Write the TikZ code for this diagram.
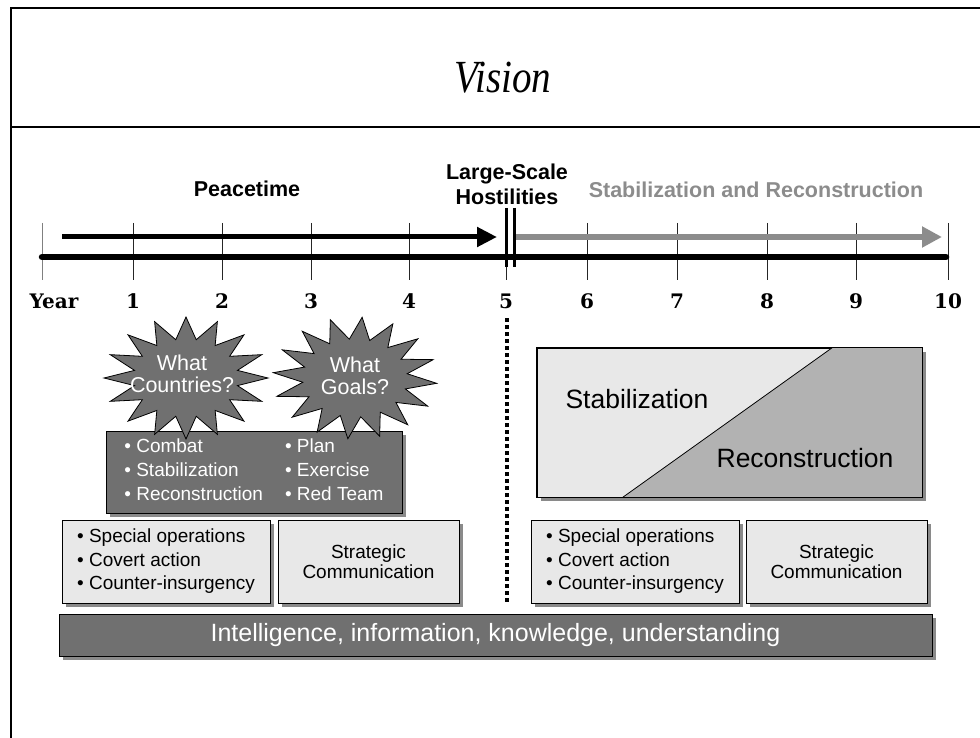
\documentclass[tikz,border=0pt]{standalone}
\usepackage{fontspec}
\setmainfont{Liberation Sans}
\newfontfamily\yearfont{DejaVu Serif}
\newfontfamily\titlefont{Liberation Serif}[FakeStretch=0.85]
\usetikzlibrary{arrows.meta,positioning,calc,shadows}

\definecolor{boxlight}{HTML}{E8E8E8}
\definecolor{boxdark}{HTML}{707070}
\definecolor{boxmid}{HTML}{B2B2B2}
\definecolor{arrowgray}{HTML}{8C8C8C}
\definecolor{shadowgray}{HTML}{8A8A8A}

\tikzset{
  lightbox/.style={draw, fill=boxlight, line width=1pt, inner sep=0pt,
    drop shadow={shadow xshift=4pt, shadow yshift=-4pt, fill=shadowgray, opacity=1}},
  darkbox/.style={lightbox, fill=boxdark, text=white},
  burst/.style={draw, fill=boxdark, line width=0.8pt},
  bursttext/.style={text=white, align=center, font=\fontsize{21.5}{22.5}\selectfont},
  phase/.style={font=\bfseries\fontsize{21.5}{25}\selectfont},
  yearlbl/.style={anchor=base, font=\yearfont\bfseries\fontsize{20}{22}\selectfont},
  tick/.style={line width=1pt, black!85},
  bigword/.style={font=\fontsize{26.5}{28}\selectfont}
}

\begin{document}
\begin{tikzpicture}[x=1pt,y=-1pt]
    \useasboundingbox (0,0) rectangle (980,738);

    % Frame and title
    \draw[line width=2pt] (11,738) -- (11,8) -- (980,8);
    \draw[line width=2pt] (11,127) -- (980,127);
    \node[font=\titlefont\itshape\fontsize{46}{50}\selectfont] (title) at (503,78) {Vision};

    % Timeline ticks and years
    \draw[tick, gray] (42,223) -- (42,280);
    \node[yearlbl] (year) at (54,308) {Year};
    \foreach \n/\x in {1/133,2/222,3/311,4/409,5/506,6/587,7/677,8/767,9/856,10/948} {
        \draw[tick] (\x,223) -- (\x,280);
        \node[yearlbl] (y\n) at (\x,308) {\n};
    }

    % Phase arrows
    \coordinate (t0) at (42,257);
    \coordinate (t10) at (946,257);
    \coordinate (p0) at (62,237);
    \coordinate (p1) at (497,237);
    \coordinate (s0) at (516,237);
    \coordinate (s1) at (942,237);
    \draw[line width=6.5pt, line cap=round] (t0) -- (t10);
    \draw[line width=5pt, -{Triangle[length=20pt,width=19pt]}] (p0) -- (p1);
    \draw[line width=6pt, arrowgray, -{Triangle[length=20pt,width=20pt]}] (s0) -- (s1);
    \draw[line width=3pt] (506,208) -- (506,267);
    \draw[line width=3pt] (514,208) -- (514,267);

    \node[phase] (peace) at (247,189) {Peacetime};
    \node[phase, align=center] (war) at (507,184) {Large-Scale\\Hostilities};
    \node[phase, text=arrowgray] (stab) at (756,190) {Stabilization and Reconstruction};

    % Divider between the two halves
    \coordinate (d0) at (507,318);
    \coordinate (d1) at (507,603);
    \draw[line width=4pt, dash pattern=on 4pt off 3pt] (d0) -- (d1);

    % Peacetime side
    \node[darkbox, minimum width=296, minimum height=82,
          font=\fontsize{19}{24}\selectfont] (aims) at (254,472) {%
        \begin{tabular}{@{}l@{\hspace{22pt}}l@{}}
        • Combat & • Plan\\
        • Stabilization & • Exercise\\
        • Reconstruction & • Red Team
        \end{tabular}};

    \draw[burst] plot[samples at={0,...,31}, variable=\t]
        ({186+82*(1-0.36*mod(\t,2))*cos(\t*11.25)}, {378+61*(1-0.36*mod(\t,2))*sin(\t*11.25)}) -- cycle;
    \draw[burst] plot[samples at={0,...,31}, variable=\t]
        ({355+82*(1-0.36*mod(\t,2))*cos(\t*11.25+5)}, {378+61*(1-0.36*mod(\t,2))*sin(\t*11.25+5)}) -- cycle;
    \node[bursttext] (qc) at (182,374) {What\\Countries?};
    \node[bursttext] (qg) at (355,376) {What\\Goals?};

    \node[lightbox, minimum width=208, minimum height=83, align=left,
          font=\fontsize{19}{23.5}\selectfont] (ops1) at (166,561.5)
        {• Special operations\\• Covert action\\• Counter-insurgency};
    \node[lightbox, minimum width=181, minimum height=83, align=center,
          font=\fontsize{19}{19.5}\selectfont] (comm1) at (368.5,561.5)
        {Strategic\\Communication};

    % Stabilization and reconstruction side
    \node[lightbox, minimum width=385, minimum height=149] (sr) at (729.5,422.5) {};
    \fill[boxmid] ($(sr.south west)+(86,0)$) -- ($(sr.north west)+(296,0)$)
        -- (sr.north east) -- (sr.south east) -- cycle;
    \draw[line width=0.8pt] ($(sr.south west)+(86,0)$) -- ($(sr.north west)+(296,0)$);
    \draw[line width=1pt] (sr.south west) rectangle (sr.north east);
    \node[bigword] (stabw) at (637,399) {Stabilization};
    \node[bigword] (recw) at (805,458) {Reconstruction};

    \node[lightbox, minimum width=208, minimum height=83, align=left,
          font=\fontsize{19}{23.5}\selectfont] (ops2) at (635,561.5)
        {• Special operations\\• Covert action\\• Counter-insurgency};
    \node[lightbox, minimum width=181, minimum height=83, align=center,
          font=\fontsize{19}{19.5}\selectfont] (comm2) at (836.5,561.5)
        {Strategic\\Communication};

    % Foundation bar
    \node[darkbox, minimum width=873, minimum height=42,
          font=\fontsize{25}{26}\selectfont] (intel) at (495.5,635)
        {Intelligence, information, knowledge, understanding};
\end{tikzpicture}
\end{document}
